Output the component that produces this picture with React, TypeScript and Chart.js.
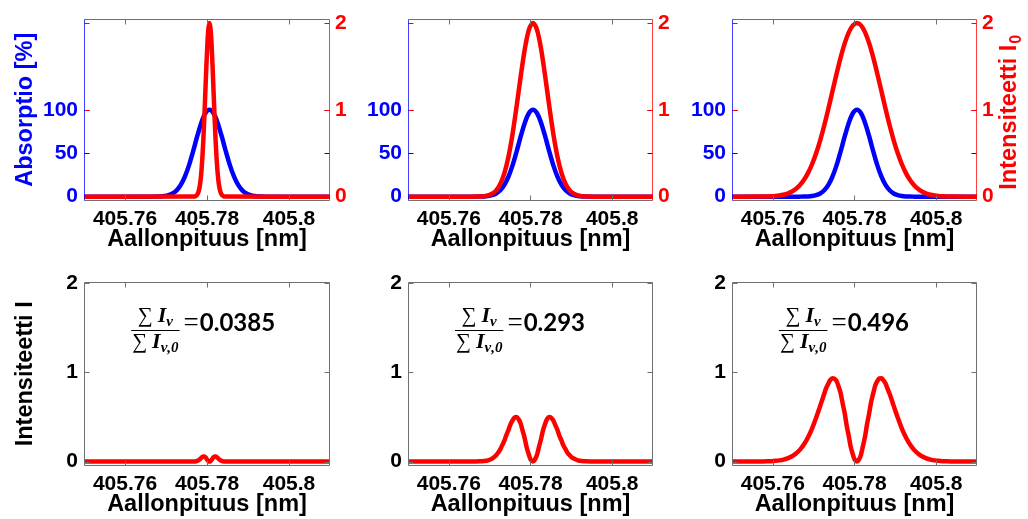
import React, { useEffect, useRef } from "react";
import { Chart, registerables } from "chart.js";

Chart.register(...registerables);

// ---------------- data ----------------
const X_MIN = 405.75;
const X_MAX = 405.81;
const xTicks = [405.76, 405.78, 405.8];
const xTickLabels = ["405.76", "405.78", "405.8"];
const absTicks = [0, 50, 100];
const absTickLabels = ["0", "50", "100"];
const intTicks = [0, 1, 2];
const intTickLabels = ["0", "1", "2"];
const ratioLabels = ["0.0385", "0.293", "0.496"];
const xTitle = "Aallonpituus [nm]";
const absTitle = "Absorptio [%]";
const i0Title = "Intensiteetti I";
const i0Sub = "0";
const iTitle = "Intensiteetti I";

// absorption profile (same in all three upper panels) and panel-2 source intensity
const gridAbs = [405.75, 405.7656, 405.7666, 405.7676, 405.7686, 405.7696, 405.7706, 405.7716, 405.7726, 405.7736, 405.7746, 405.7756, 405.7766, 405.7776, 405.7786, 405.7796, 405.7806, 405.7816, 405.7826, 405.7836, 405.7846, 405.7856, 405.7866, 405.7876, 405.7886, 405.7896, 405.7906, 405.7916, 405.7926, 405.7936, 405.7946, 405.7956, 405.81];
const absorption = [0, 0, 0.03, 0.1, 0.28, 0.72, 1.7, 3.7, 7.3, 13.5, 23.0, 36.0, 52.0, 69.3, 84.9, 96.0, 100, 96.0, 84.9, 69.3, 52.0, 36.0, 23.0, 13.5, 7.3, 3.7, 1.7, 0.72, 0.28, 0.1, 0.03, 0, 0];
const intensity0B = [0, 0, 0.0007, 0.002, 0.0056, 0.014, 0.034, 0.073, 0.147, 0.271, 0.46, 0.721, 1.041, 1.385, 1.699, 1.92, 2, 1.92, 1.699, 1.385, 1.041, 0.721, 0.46, 0.271, 0.147, 0.073, 0.034, 0.014, 0.0056, 0.002, 0.0007, 0, 0];

// panel 1 (narrow source line) and panel 4 (transmitted)
const gridA = [405.75, 405.7766, 405.77685, 405.7771, 405.77735, 405.7776, 405.77785, 405.7781, 405.77835, 405.7786, 405.77885, 405.7791, 405.77935, 405.7796, 405.77985, 405.7801, 405.78035, 405.7806, 405.78085, 405.7811, 405.78135, 405.7816, 405.78185, 405.7821, 405.78235, 405.7826, 405.78285, 405.7831, 405.78335, 405.7836, 405.78385, 405.7841, 405.78435, 405.7846, 405.81];
const intensity0A = [0, 0.0007, 0.0018, 0.0044, 0.0102, 0.0222, 0.0456, 0.088, 0.159, 0.271, 0.433, 0.649, 0.916, 1.213, 1.51, 1.765, 1.938, 2, 1.938, 1.765, 1.51, 1.213, 0.916, 0.649, 0.433, 0.271, 0.159, 0.088, 0.0456, 0.0222, 0.0102, 0.0044, 0.0018, 0.0007, 0];
const transmittedA = [0, 0.0003, 0.0008, 0.0017, 0.0036, 0.0068, 0.0121, 0.0198, 0.0297, 0.0408, 0.0509, 0.057, 0.0566, 0.0485, 0.0343, 0.0179, 0.0049, 0, 0.0049, 0.0179, 0.0343, 0.0485, 0.0566, 0.057, 0.0509, 0.0408, 0.0297, 0.0198, 0.0121, 0.0068, 0.0036, 0.0017, 0.0008, 0.0003, 0];

// panel 3 (wide source line)
const gridC = [405.75, 405.7566, 405.7576, 405.7586, 405.7596, 405.7606, 405.7616, 405.7626, 405.7636, 405.7646, 405.7656, 405.7666, 405.7676, 405.7686, 405.7696, 405.7706, 405.7716, 405.7726, 405.7736, 405.7746, 405.7756, 405.7766, 405.7776, 405.7786, 405.7796, 405.7806, 405.7816, 405.7826, 405.7836, 405.7846, 405.7856, 405.7866, 405.7876, 405.7886, 405.7896, 405.7906, 405.7916, 405.7926, 405.7936, 405.7946, 405.7956, 405.7966, 405.7976, 405.7986, 405.7996, 405.8006, 405.8016, 405.8026, 405.8036, 405.8046, 405.81];
const intensity0C = [0, 0.0007, 0.0013, 0.0024, 0.0044, 0.0077, 0.0133, 0.0222, 0.0361, 0.0571, 0.0879, 0.131, 0.191, 0.271, 0.373, 0.499, 0.649, 0.822, 1.013, 1.213, 1.413, 1.601, 1.765, 1.892, 1.972, 2, 1.972, 1.892, 1.765, 1.601, 1.413, 1.213, 1.013, 0.822, 0.649, 0.499, 0.373, 0.271, 0.191, 0.131, 0.0879, 0.0571, 0.0361, 0.0222, 0.0133, 0.0077, 0.0044, 0.0024, 0.0013, 0.0007, 0];

// panel 5 (transmitted, medium line)
const gridB5 = [405.75, 405.7666, 405.7676, 405.7686, 405.7696, 405.7706, 405.77105, 405.7716, 405.77205, 405.7726, 405.77305, 405.7736, 405.77405, 405.7746, 405.77505, 405.7756, 405.77605, 405.7766, 405.77705, 405.7776, 405.77805, 405.7786, 405.77905, 405.7796, 405.78005, 405.7806, 405.78105, 405.7816, 405.78205, 405.7826, 405.78305, 405.7836, 405.78405, 405.7846, 405.78505, 405.7856, 405.78605, 405.7866, 405.78705, 405.7876, 405.78805, 405.7886, 405.78905, 405.7896, 405.79005, 405.7906, 405.7916, 405.7926, 405.7936, 405.7946, 405.81];
const transmittedB = [0, 0.0007, 0.002, 0.0056, 0.0142, 0.0332, 0.049, 0.0707, 0.0993, 0.136, 0.1811, 0.234, 0.293, 0.3543, 0.4125, 0.461, 0.4922, 0.4992, 0.4773, 0.4258, 0.349, 0.256, 0.1601, 0.0768, 0.0201, 0, 0.0201, 0.0768, 0.1601, 0.256, 0.349, 0.4258, 0.4773, 0.4992, 0.4922, 0.461, 0.4125, 0.3543, 0.293, 0.234, 0.1811, 0.136, 0.0993, 0.0707, 0.049, 0.0332, 0.0142, 0.0056, 0.002, 0.0007, 0];

// panel 6 (transmitted, wide line)
const gridC6 = [405.75, 405.7566, 405.7576, 405.7586, 405.7596, 405.7606, 405.7616, 405.7626, 405.7636, 405.7646, 405.7656, 405.7666, 405.7676, 405.7686, 405.7696, 405.7706, 405.7716, 405.7726, 405.77305, 405.7736, 405.77405, 405.7746, 405.77505, 405.7756, 405.77605, 405.7766, 405.77705, 405.7776, 405.77805, 405.7786, 405.77905, 405.7796, 405.78005, 405.7806, 405.78105, 405.7816, 405.78205, 405.7826, 405.78305, 405.7836, 405.78405, 405.7846, 405.78505, 405.7856, 405.78605, 405.7866, 405.78705, 405.7876, 405.78805, 405.7886, 405.7896, 405.7906, 405.7916, 405.7926, 405.7936, 405.7946, 405.7956, 405.7966, 405.7976, 405.7986, 405.7996, 405.8006, 405.8016, 405.8026, 405.8036, 405.8046, 405.81];
const transmittedC = [0, 0.0007, 0.0013, 0.0024, 0.0044, 0.0077, 0.0133, 0.0222, 0.0361, 0.0571, 0.0879, 0.131, 0.1908, 0.2702, 0.3703, 0.4906, 0.6252, 0.7617, 0.8234, 0.8759, 0.9139, 0.9339, 0.9318, 0.9038, 0.849, 0.7678, 0.6639, 0.5426, 0.413, 0.2851, 0.1701, 0.0789, 0.0202, 0, 0.0202, 0.0789, 0.1701, 0.2851, 0.413, 0.5426, 0.6639, 0.7678, 0.849, 0.9038, 0.9318, 0.9339, 0.9139, 0.8759, 0.8234, 0.7617, 0.6252, 0.4906, 0.3703, 0.2702, 0.1908, 0.131, 0.0879, 0.0571, 0.0361, 0.0222, 0.0133, 0.0077, 0.0044, 0.0024, 0.0013, 0.0007, 0];

// ---------------- layout & style ----------------
const SANS = "'Liberation Sans', Arial, Helvetica, sans-serif";
const SERIF = "'Liberation Serif', 'DejaVu Serif', serif";
const NUMFONT = "Lato, 'Liberation Sans', sans-serif";
const BLUE = "#0000ff";
const RED = "#ff0000";
const FRAME = "#707070";
const TICK_FONT = { family: SANS, size: 21, weight: "bold" as const };
const TITLE_FONT = { family: SANS, size: 23.5, weight: "bold" as const };

const COLS = [
  { left: 84, right: 330 },
  { left: 408, right: 653 },
  { left: 732, right: 977 },
];
const ROWS = [
  { top: 12, bottom: 201, canvasTop: 0 },
  { top: 275, bottom: 466, canvasTop: 263 },
];
const LEFT_W = 80;
const RIGHT_W = 50;
const XAXIS_H = 58;
const RATIO_AT_X = 405.7615;
const RATIO_AT_Y = 1.48;

function pts(xs: number[], ys: number[]) {
  return xs.map((x, i) => ({ x, y: ys[i] }));
}

function xScale() {
  return {
    type: "linear",
    position: "bottom",
    min: X_MIN,
    max: X_MAX,
    afterBuildTicks: (s: any) => {
      s.ticks = xTicks.map((v) => ({ value: v }));
    },
    afterFit: (s: any) => {
      s.height = XAXIS_H;
    },
    grid: { display: false, drawTicks: false, tickLength: 0 },
    border: { display: false },
    ticks: {
      font: TICK_FONT,
      color: "#000",
      padding: 6,
      maxRotation: 0,
      autoSkip: false,
      callback: (_v: any, i: number) => xTickLabels[i],
    },
    title: {
      display: true,
      text: xTitle,
      font: TITLE_FONT,
      color: "#000",
      padding: { top: 0, bottom: 5 },
    },
  };
}

function yScale(
  position: "left" | "right",
  min: number,
  max: number,
  values: number[],
  labels: string[],
  color: string,
  title: string | null
) {
  return {
    type: "linear",
    position,
    min,
    max,
    afterBuildTicks: (s: any) => {
      s.ticks = values.map((v) => ({ value: v }));
    },
    afterFit: (s: any) => {
      s.width = position === "left" ? LEFT_W : RIGHT_W;
    },
    grid: { display: false, drawTicks: false, tickLength: 0 },
    border: { display: false },
    ticks: {
      font: TICK_FONT,
      color,
      padding: position === "left" ? 6 : 5,
      autoSkip: false,
      callback: (_v: any, i: number) => labels[i],
    },
    title: {
      display: !!title,
      text: title || "",
      font: TITLE_FONT,
      color,
      padding: { top: 7, bottom: 0 },
    },
  };
}

function framePlugin(
  leftColor: string,
  rightColor: string,
  yTickSets: { id: string; values: number[]; color: string }[]
) {
  return {
    id: "frame",
    afterDatasetsDraw(chart: any) {
      const { ctx, chartArea: a, scales } = chart;
      ctx.save();
      ctx.lineWidth = 1;
      const seg = (x1: number, y1: number, x2: number, y2: number, c: string) => {
        ctx.strokeStyle = c;
        ctx.beginPath();
        ctx.moveTo(x1, y1);
        ctx.lineTo(x2, y2);
        ctx.stroke();
      };
      const L = Math.round(a.left) + 0.5;
      const R = Math.round(a.right) - 0.5;
      const T = Math.round(a.top) + 0.5;
      const B = Math.round(a.bottom) - 0.5;
      for (const v of xTicks) {
        const px = Math.round(scales.x.getPixelForValue(v)) + 0.5;
        seg(px, B, px, B - 5, FRAME);
        seg(px, T, px, T + 5, FRAME);
      }
      for (const set of yTickSets) {
        for (const v of set.values) {
          const py = Math.round(scales[set.id].getPixelForValue(v)) + 0.5;
          seg(L, py, L + 5, py, set.color);
          seg(R, py, R - 5, py, set.color);
        }
      }
      seg(L, T, R, T, FRAME);
      seg(L, B, R, B, FRAME);
      seg(L, T, L, B, leftColor);
      seg(R, T, R, B, rightColor);
      ctx.restore();
    },
  };
}

const rightTitlePlugin = {
  id: "rightTitle",
  afterDraw(chart: any) {
    const { ctx, chartArea: a } = chart;
    ctx.save();
    ctx.translate(a.right + 33, (a.top + a.bottom) / 2 + 3);
    ctx.rotate(-Math.PI / 2);
    ctx.fillStyle = RED;
    ctx.textBaseline = "middle";
    ctx.textAlign = "left";
    ctx.font = `bold 23.5px ${SANS}`;
    const w1 = ctx.measureText(i0Title).width;
    ctx.font = `bold 16px ${SANS}`;
    const w2 = ctx.measureText(i0Sub).width;
    const start = -(w1 + w2) / 2;
    ctx.font = `bold 23.5px ${SANS}`;
    ctx.fillText(i0Title, start, 0);
    ctx.font = `bold 16px ${SANS}`;
    ctx.fillText(i0Sub, start + w1 + 1, 7);
    ctx.restore();
  },
};

function ratioPlugin(value: string) {
  return {
    id: "ratio",
    afterDatasetsDraw(chart: any) {
      const { ctx, scales } = chart;
      const x0 = scales.x.getPixelForValue(RATIO_AT_X);
      const yl = scales.y.getPixelForValue(RATIO_AT_Y);
      ctx.save();
      ctx.fillStyle = "#000";
      ctx.strokeStyle = "#000";
      ctx.textAlign = "left";
      ctx.textBaseline = "alphabetic";
      const piece = (x: number, base: number, sub: string, draw: boolean) => {
        let w = 0;
        ctx.font = `21px ${SERIF}`;
        if (draw) ctx.fillText("\u2211", x, base);
        w += ctx.measureText("\u2211").width + 5;
        ctx.font = `bold italic 22px ${SERIF}`;
        if (draw) ctx.fillText("I", x + w, base);
        w += ctx.measureText("I").width;
        ctx.font = `bold italic 15px ${SERIF}`;
        if (draw) ctx.fillText(sub, x + w, base + 4);
        w += ctx.measureText(sub).width;
        return w;
      };
      const wNum = piece(0, 0, "\u03bd", false);
      const wDen = piece(0, 0, "\u03bd,0", false);
      const wFrac = Math.max(wNum, wDen) + 2;
      piece(x0 + (wFrac - wNum) / 2, yl - 8, "\u03bd", true);
      piece(x0 + (wFrac - wDen) / 2, yl + 18, "\u03bd,0", true);
      ctx.lineWidth = 1;
      ctx.beginPath();
      ctx.moveTo(x0, Math.round(yl) + 0.5);
      ctx.lineTo(x0 + wFrac, Math.round(yl) + 0.5);
      ctx.stroke();
      ctx.font = `27px ${SERIF}`;
      ctx.fillText("=", x0 + wFrac + 4, yl + 1);
      const wEq = ctx.measureText("=").width;
      ctx.font = `bold 24px ${NUMFONT}`;
      ctx.fillText(value, x0 + wFrac + 4 + wEq + 1, yl + 1);
      ctx.restore();
    },
  };
}

function lineDs(data: { x: number; y: number }[], color: string, yAxisID: string) {
  return {
    data,
    yAxisID,
    borderColor: color,
    backgroundColor: color,
    borderWidth: 4.5,
    pointRadius: 0,
    fill: false,
    cubicInterpolationMode: "monotone",
    borderCapStyle: "round",
    borderJoinStyle: "round",
  };
}

function topConfig(col: number, redX: number[], redY: number[]) {
  return {
    type: "line",
    data: {
      datasets: [
        lineDs(pts(redX, redY), RED, "yR"),
        lineDs(pts(gridAbs, absorption), BLUE, "yL"),
      ],
    },
    options: {
      responsive: false,
      animation: false,
      events: [],
      layout: { padding: { top: ROWS[0].top - ROWS[0].canvasTop, left: 0, right: 0, bottom: 0 } },
      plugins: { legend: { display: false }, tooltip: { enabled: false } },
      scales: {
        x: xScale(),
        yL: yScale("left", -5, 205, absTicks, absTickLabels, BLUE, col === 0 ? absTitle : null),
        yR: yScale("right", -0.05, 2.05, intTicks, intTickLabels, RED, null),
      },
    },
    plugins: [
      framePlugin("rgba(0,0,255,0.75)", "rgba(255,0,0,0.75)", [
        { id: "yL", values: absTicks, color: BLUE },
        { id: "yR", values: intTicks, color: RED },
      ]),
      ...(col === 2 ? [rightTitlePlugin] : []),
    ],
  };
}

function bottomConfig(col: number, xs: number[], ys: number[]) {
  return {
    type: "line",
    data: { datasets: [lineDs(pts(xs, ys), RED, "y")] },
    options: {
      responsive: false,
      animation: false,
      events: [],
      layout: { padding: { top: ROWS[1].top - ROWS[1].canvasTop, left: 0, right: RIGHT_W, bottom: 0 } },
      plugins: { legend: { display: false }, tooltip: { enabled: false } },
      scales: {
        x: xScale(),
        y: yScale("left", -0.05, 2.02, intTicks, intTickLabels, "#000", col === 0 ? iTitle : null),
      },
    },
    plugins: [
      framePlugin(FRAME, FRAME, [{ id: "y", values: intTicks, color: FRAME }]),
      ratioPlugin(ratioLabels[col]),
    ],
  };
}

const PANELS = [0, 1, 2, 3, 4, 5].map((i) => {
  const row = Math.floor(i / 3);
  const col = i % 3;
  const c = COLS[col];
  const r = ROWS[row];
  return {
    row,
    col,
    x: c.left - LEFT_W,
    y: r.canvasTop,
    w: LEFT_W + (c.right - c.left) + RIGHT_W,
    h: r.bottom - r.canvasTop + XAXIS_H,
  };
});

export default function App() {
  const canvases = useRef<(HTMLCanvasElement | null)[]>([]);

  useEffect(() => {
    const configs: any[] = [
      topConfig(0, gridA, intensity0A),
      topConfig(1, gridAbs, intensity0B),
      topConfig(2, gridC, intensity0C),
      bottomConfig(0, gridA, transmittedA),
      bottomConfig(1, gridB5, transmittedB),
      bottomConfig(2, gridC6, transmittedC),
    ];
    const charts = configs.map((cfg, i) => new Chart(canvases.current[i] as HTMLCanvasElement, cfg));
    return () => charts.forEach((c) => c.destroy());
  }, []);

  return (
    <div
      style={{
        position: "absolute",
        left: 0,
        top: 0,
        width: 1028,
        height: 519,
        overflow: "hidden",
        background: "#ffffff",
      }}
    >
      {PANELS.map((p, i) => (
        <canvas
          key={i}
          ref={(el) => {
            canvases.current[i] = el;
          }}
          width={p.w}
          height={p.h}
          style={{ position: "absolute", left: p.x, top: p.y, width: p.w, height: p.h }}
        />
      ))}
    </div>
  );
}
